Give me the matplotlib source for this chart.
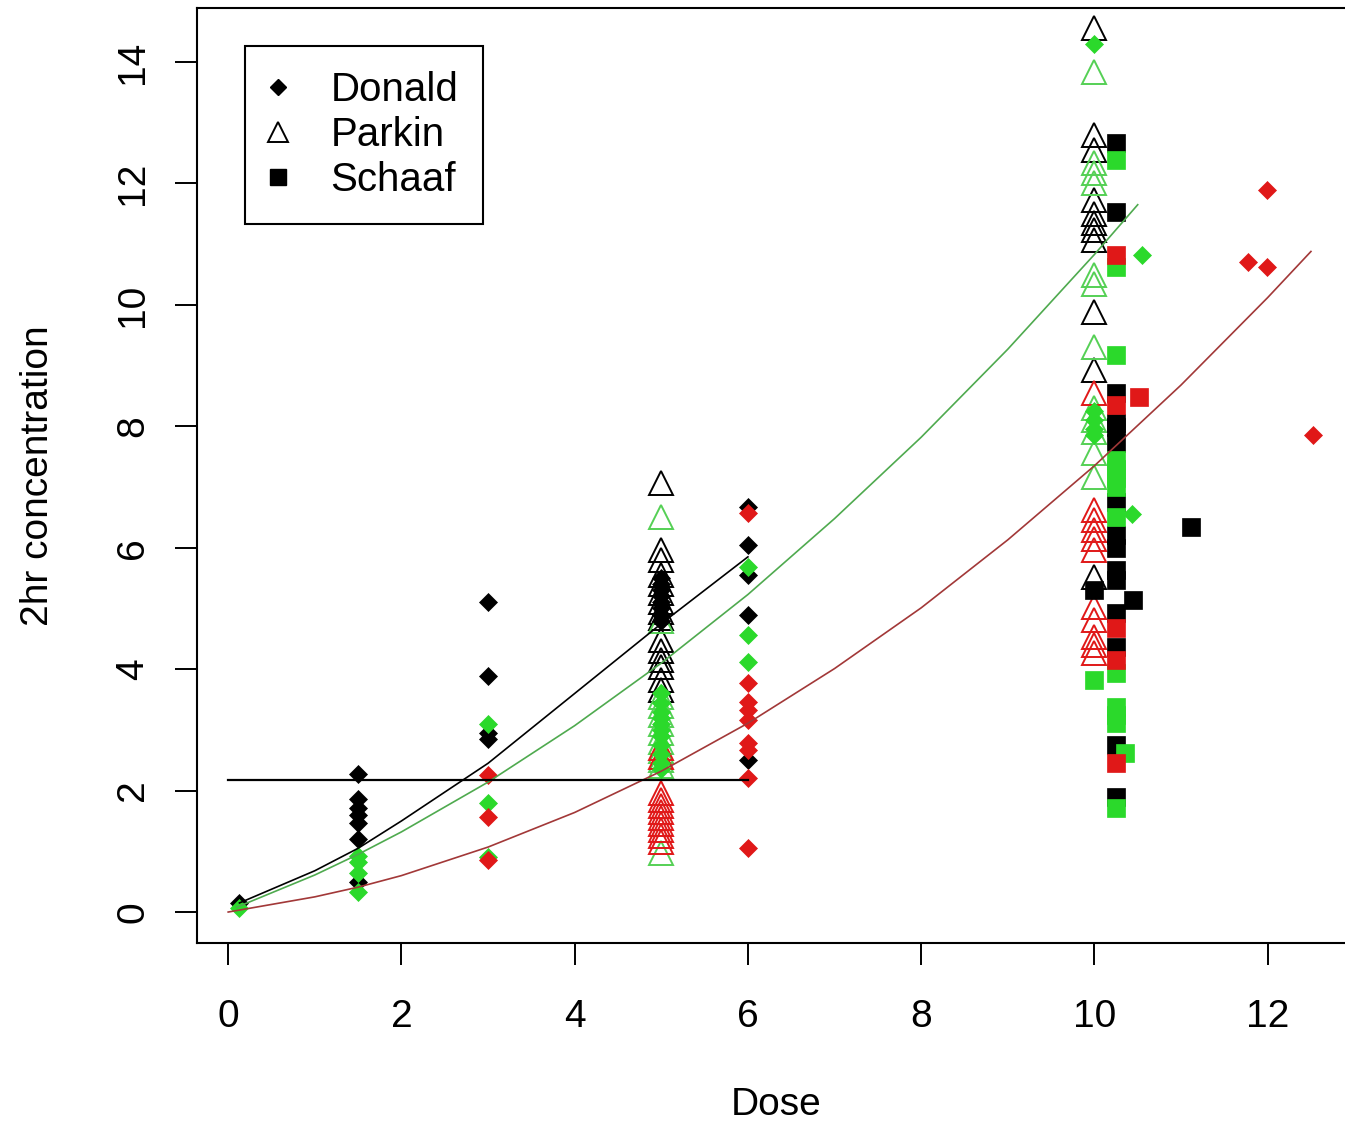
import matplotlib
matplotlib.use("Agg")
import matplotlib.pyplot as plt
from matplotlib.lines import Line2D

plt.rcParams['font.family'] = ['Liberation Sans', 'DejaVu Sans']

# Donald study (filled diamonds)
donald_black_dose = [0.13, 1.5, 1.5, 1.5, 1.5, 1.5, 1.5, 1.5, 3, 3, 3, 3,
                     5, 5, 5, 5, 5, 5, 5, 5, 6, 6, 6, 6, 6]
donald_black_conc = [0.15, 2.27, 1.87, 1.72, 1.6, 1.47, 1.2, 0.5, 5.1, 3.88, 2.95, 2.85,
                     5.5, 5.4, 5.3, 5.2, 5.1, 5.0, 4.9, 4.8, 6.67, 6.05, 5.55, 4.89, 2.5]
donald_green_dose = [0.13, 1.5, 1.5, 1.5, 1.5, 3, 3, 3,
                     5, 5, 5, 5, 5, 5, 5, 5, 5, 5, 5, 6, 6, 6,
                     10, 10, 10, 10, 10, 10.55, 10.43]
donald_green_conc = [0.07, 0.92, 0.82, 0.65, 0.33, 3.1, 1.8, 0.9,
                     3.6, 3.45, 3.3, 3.2, 3.1, 3.0, 2.9, 2.75, 2.6, 2.45, 2.35, 5.68, 4.56, 4.12,
                     14.3, 8.25, 8.1, 7.95, 7.85, 10.82, 6.55]
donald_red_dose = [3, 3, 3, 6, 6, 6, 6, 6, 6, 6, 6, 6, 11.77, 11.99, 11.99, 12.52]
donald_red_conc = [2.25, 1.57, 0.85, 6.57, 3.77, 3.46, 3.33, 3.16, 2.78, 2.67, 2.2, 1.05,
                   10.71, 11.9, 10.63, 7.86]

# Parkin study (open triangles)
parkin_black_dose = [5] * 15 + [10] * 11
parkin_black_conc = [7.07, 5.96, 5.8, 5.55, 5.4, 5.25, 5.1, 4.95, 4.85, 4.48, 4.3, 4.15, 4.04, 3.82, 3.66,
                     14.56, 12.8, 12.55, 11.73, 11.5, 11.35, 11.23, 11.07, 9.88, 8.93, 5.52]
parkin_green_dose = [5] * 12 + [10] * 12
parkin_green_conc = [6.5, 4.8, 3.55, 3.4, 3.25, 3.1, 2.95, 2.8, 2.65, 2.5, 2.4, 0.97,
                     13.84, 12.34, 12.17, 12.0, 10.5, 10.35, 9.3, 8.3, 8.1, 7.9, 7.56, 7.17]
parkin_red_dose = [5] * 11 + [10] * 11
parkin_red_conc = [2.7, 2.55, 1.96, 1.85, 1.75, 1.65, 1.55, 1.45, 1.35, 1.25, 1.15,
                   8.55, 6.62, 6.46, 6.3, 6.15, 5.96, 5.02, 4.81, 4.53, 4.4, 4.27]

# Schaaf study (filled squares)
schaaf_black_dose = [10.25] * 15 + [10.0, 10.45, 11.12]
schaaf_black_conc = [12.67, 11.53, 8.55, 8.05, 7.99, 7.73, 6.75, 6.21, 6.0, 5.63, 5.47, 4.93, 4.37, 2.75, 1.9,
                     5.3, 5.14, 6.34]
schaaf_green_dose = [10.25] * 13 + [10.0, 10.35]
schaaf_green_conc = [12.39, 10.63, 9.17, 7.45, 7.3, 7.15, 7.0, 6.5, 3.94, 3.38, 3.25, 3.11, 1.71,
                     3.82, 2.62]
schaaf_red_dose = [10.25] * 5 + [10.52]
schaaf_red_conc = [10.82, 8.35, 4.68, 4.15, 2.45, 8.48]

# fitted curves
fit_black_dose = [0.13, 1, 1.5, 2, 3, 4, 5, 6]
fit_black_conc = [0.15, 0.68, 1.05, 1.5, 2.45, 3.6, 4.75, 5.85]
fit_green_dose = [0.1, 1, 1.5, 2, 3, 4, 5, 6, 7, 8, 9, 10, 10.5]
fit_green_conc = [0.08, 0.61, 0.95, 1.32, 2.14, 3.07, 4.1, 5.23, 6.48, 7.82, 9.27, 10.83, 11.65]
fit_red_dose = [0, 1, 1.5, 2, 3, 4, 5, 6, 7, 8, 9, 10, 11, 12, 12.5]
fit_red_conc = [0, 0.25, 0.41, 0.6, 1.07, 1.64, 2.32, 3.11, 4.01, 5.01, 6.13, 7.35, 8.68, 10.12, 10.88]

target_dose = [0, 6]
target_conc = [2.17, 2.17]

legend_labels = ['Donald', 'Parkin', 'Schaaf']

BLACK = '#000000'
GREEN = '#2bd92b'
GREEN_TRI = '#55d055'
RED = '#e01818'

fig = plt.figure(figsize=(13.45, 11.22), dpi=100)
ax = fig.add_axes([197 / 1345, 179 / 1122, 1159 / 1345, 935 / 1122])

# Parkin triangles
for d, c, col in [(parkin_black_dose, parkin_black_conc, BLACK),
                  (parkin_green_dose, parkin_green_conc, GREEN_TRI),
                  (parkin_red_dose, parkin_red_conc, RED)]:
    ax.plot(d, c, ls='none', marker='^', ms=17, mfc='none', mec=col, mew=1.4)

# Donald diamonds
for d, c, col in [(donald_black_dose, donald_black_conc, BLACK),
                  (donald_green_dose, donald_green_conc, GREEN),
                  (donald_red_dose, donald_red_conc, RED)]:
    ax.plot(d, c, ls='none', marker='D', ms=9, mfc=col, mec=col, mew=0.5)

# Schaaf squares
for d, c, col in [(schaaf_black_dose, schaaf_black_conc, BLACK),
                  (schaaf_green_dose, schaaf_green_conc, GREEN),
                  (schaaf_red_dose, schaaf_red_conc, RED)]:
    ax.plot(d, c, ls='none', marker='s', ms=13, mfc=col, mec=col, mew=0.5)

ax.plot(fit_black_dose, fit_black_conc, color='k', lw=1.2)
ax.plot(fit_green_dose, fit_green_conc, color='#4faa4f', lw=1.2)
ax.plot(fit_red_dose, fit_red_conc, color='#a23838', lw=1.2)
ax.plot(target_dose, target_conc, color='k', lw=1.6)

ax.set_xlim(-0.36, 13.02)
ax.set_ylim(-0.51, 14.89)
ax.set_xticks(range(0, 13, 2))
ax.set_yticks(range(0, 15, 2))
for s in ax.spines.values():
    s.set_linewidth(1.5)
ax.tick_params(direction='out', length=16, width=1.4, labelsize=28, pad=24)
ax.tick_params(axis='y', pad=17)
for lab in ax.get_yticklabels():
    lab.set_rotation(90)
    lab.set_va('center')

ax.set_xlabel('Dose', fontsize=28, va='center')
ax.xaxis.set_label_coords(0.5, -0.173)
ax.set_ylabel('2hr concentration', fontsize=28, va='center')
ax.yaxis.set_label_coords(-0.137, 0.5)

handles = [Line2D([], [], ls='none', marker='D', ms=8, color='k'),
           Line2D([], [], ls='none', marker='^', ms=15, mfc='none', mec='k', mew=1.4),
           Line2D([], [], ls='none', marker='s', ms=11, color='k')]
leg = ax.legend(handles, legend_labels, loc='upper left', bbox_to_anchor=(0.0414, 0.9594),
                borderaxespad=0, fontsize=29, fancybox=False, framealpha=1,
                edgecolor='k', handlelength=0.4, handletextpad=1.1, labelspacing=0.18,
                borderpad=0.62)
leg.get_frame().set_linewidth(1.5)

fig.savefig('out.png', dpi=100)
